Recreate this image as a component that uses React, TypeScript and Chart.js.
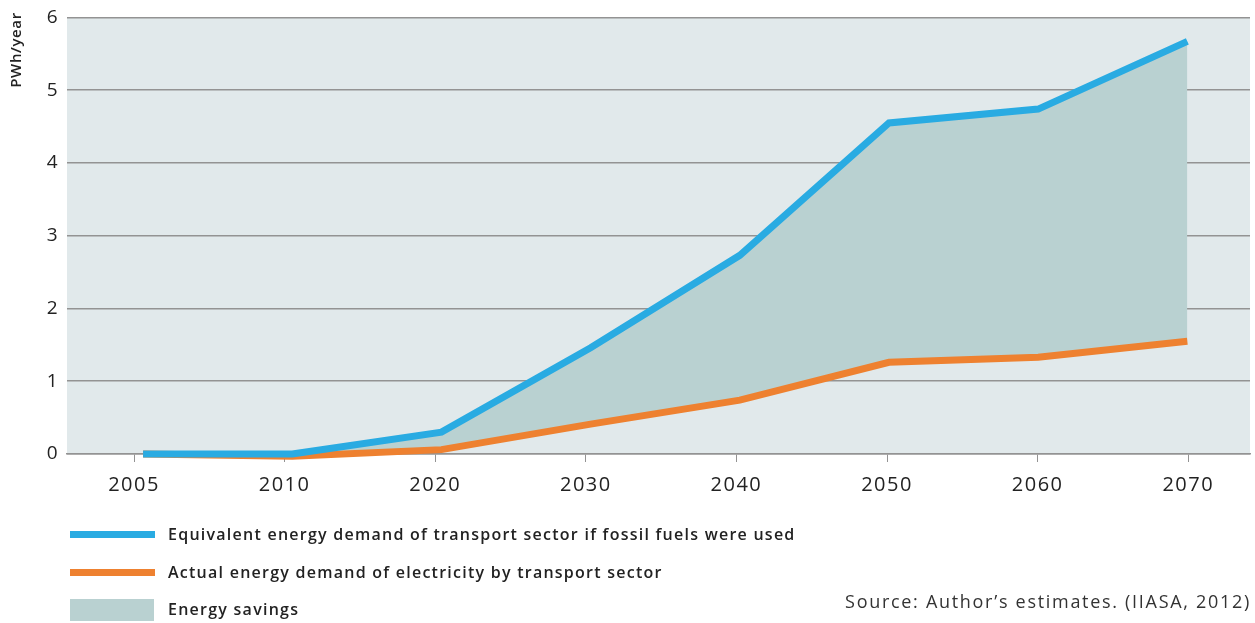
import React, { useEffect, useRef } from "react";
import { Chart, registerables } from "chart.js";

Chart.register(...registerables);

const years = ["2005", "2010", "2020", "2030", "2040", "2050", "2060", "2070"];
const fossilEquivalent = [0, 0, 0.3, 1.46, 2.73, 4.55, 4.74, 5.67];
const electricityDemand = [0, -0.03, 0.06, 0.41, 0.74, 1.26, 1.33, 1.55];
const yTicks = [0, 1, 2, 3, 4, 5, 6];

const legendLabels = [
  "Equivalent energy demand of transport sector if fossil fuels were used",
  "Actual energy demand of electricity by transport sector",
  "Energy savings",
];
const yTitle = "PWh/year";
const sourceText = "Source: Author\u2019s estimates. (IIASA, 2012)";

const BLUE = "#29abe2";
const ORANGE = "#ee8130";
const FILL = "#b9d1d1";
const PLOT_BG = "#e1e9eb";
const GRID = "#939393";
const FONT = "'Open Sans', 'DejaVu Sans', sans-serif";
const SHIFT = 2;

const bgPlugin = {
  id: "plotBg",
  beforeDraw(chart: any) {
    const { ctx, chartArea } = chart;
    ctx.save();
    ctx.fillStyle = PLOT_BG;
    ctx.fillRect(chartArea.left, chartArea.top, chartArea.right - chartArea.left, chartArea.bottom - chartArea.top);
    ctx.restore();
    (ctx as any).letterSpacing = "1.5px";
  },
  afterDraw(chart: any) {
    const { ctx } = chart;
    (ctx as any).letterSpacing = "0px";
    ctx.save();
    ctx.translate(17, 50 + SHIFT);
    ctx.rotate(-Math.PI / 2);
    ctx.font = `600 15px ${FONT}`;
    (ctx as any).letterSpacing = "0.6px";
    ctx.fillStyle = "#222";
    ctx.textAlign = "center";
    ctx.textBaseline = "middle";
    ctx.fillText(yTitle, 0, 0);
    ctx.restore();
  },
};

const toPoints = (vals: number[]) => vals.map((v, i) => ({ x: i, y: v }));

export default function App() {
  const ref = useRef<HTMLCanvasElement>(null);
  useEffect(() => {
    if (!ref.current) return;
    const chart = new Chart(ref.current, {
      type: "line",
      data: {
        datasets: [
          {
            label: legendLabels[0],
            data: toPoints(fossilEquivalent),
            xAxisID: "xData",
            borderColor: BLUE,
            borderWidth: 7,
            pointRadius: 0,
            tension: 0,
            fill: "+1",
            backgroundColor: FILL,
            clip: 10,
          },
          {
            label: legendLabels[1],
            data: toPoints(electricityDemand),
            xAxisID: "xData",
            borderColor: ORANGE,
            borderWidth: 7,
            pointRadius: 0,
            tension: 0,
            fill: false,
            clip: 10,
          },
        ],
      },
      options: {
        responsive: false,
        animation: false,
        layout: { padding: { top: 12, right: 5, left: 0, bottom: 0 } },
        plugins: {
          legend: { display: false },
          tooltip: { enabled: false },
          filler: { drawTime: "beforeDatasetsDraw" },
        },
        scales: {
          x: {
            type: "linear",
            position: "bottom",
            min: -0.445,
            max: 7.41,
            afterBuildTicks(scale: any) {
              scale.ticks = years.map((_, i) => ({ value: i }));
            },
            grid: {
              display: true,
              drawOnChartArea: false,
              drawTicks: true,
              tickLength: 8,
              color: GRID,
            },
            border: { display: true, color: GRID, width: 1.5 },
            ticks: {
              color: "#222",
              font: { family: FONT, size: 20 },
              padding: 11,
              maxRotation: 0,
              autoSkip: false,
              callback: (v: any) => years[Math.round(Number(v))] ?? "",
            },
            afterFit(scale: any) {
              scale.height = 169;
            },
          },
          xData: {
            type: "linear",
            display: false,
            min: -0.51,
            max: 7.42,
          },
          y: {
            min: 0,
            max: 6,
            afterBuildTicks(scale: any) {
              scale.ticks = yTicks.map((v) => ({ value: v }));
            },
            grid: { color: GRID, lineWidth: 1.5, drawTicks: false },
            border: { display: false },
            ticks: { color: "#222", font: { family: FONT, size: 19 }, padding: 8 },
            afterFit(scale: any) {
              scale.width = 67;
            },
          },
        },
      },
      plugins: [bgPlugin],
    });
    return () => chart.destroy();
  }, []);

  const textStyle: React.CSSProperties = {
    position: "absolute",
    left: 168,
    fontFamily: FONT,
    fontWeight: 600,
    fontSize: 16,
    letterSpacing: "1.25px",
    color: "#222",
    lineHeight: "20px",
    whiteSpace: "nowrap",
  };

  return (
    <div style={{ position: "absolute", left: 0, top: 0, width: 1255, height: 623, background: "#fff", overflow: "hidden" }}>
      <canvas ref={ref} width={1255} height={623 + SHIFT} style={{ position: "absolute", left: 0, top: -SHIFT }} />
      <div style={{ position: "absolute", left: 70, top: 531, width: 85, height: 7, background: BLUE }} />
      <div style={{ ...textStyle, top: 524 }}>{legendLabels[0]}</div>
      <div style={{ position: "absolute", left: 70, top: 569, width: 85, height: 7, background: ORANGE }} />
      <div style={{ ...textStyle, top: 562 }}>{legendLabels[1]}</div>
      <div style={{ position: "absolute", left: 70, top: 599, width: 84, height: 22, background: FILL }} />
      <div style={{ ...textStyle, top: 599 }}>{legendLabels[2]}</div>
      <div
        style={{
          position: "absolute",
          right: 4,
          top: 590,
          fontFamily: FONT,
          fontWeight: 400,
          fontSize: 18,
          letterSpacing: "1.7px",
          color: "#333",
          whiteSpace: "nowrap",
          lineHeight: "22px",
        }}
      >
        {sourceText}
      </div>
    </div>
  );
}
